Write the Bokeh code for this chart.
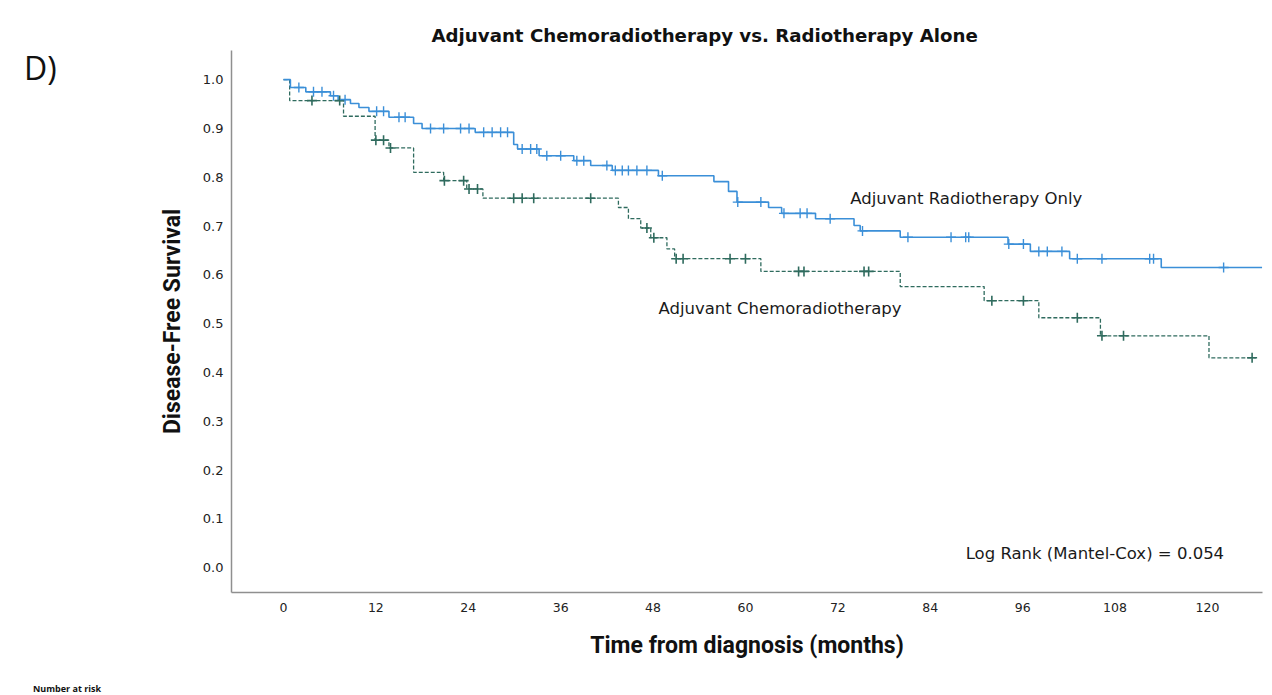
import numpy as np
from bokeh.plotting import figure
from bokeh.models import Range1d, FixedTicker, Label, NumeralTickFormatter, Div
from bokeh.layouts import row
from bokeh.embed import file_html
from bokeh.resources import INLINE

# ---- data ----
x_ticks = [0, 12, 24, 36, 48, 60, 72, 84, 96, 108, 120]
y_ticks = [0.0, 0.1, 0.2, 0.3, 0.4, 0.5, 0.6, 0.7, 0.8, 0.9, 1.0]

# Adjuvant Radiotherapy Only (solid blue)
rt_times = [0, 0.9, 2.9, 6.1, 7.1, 8.7, 9.8, 11.1, 13.7, 16.9, 18.0, 24.9, 29.9, 30.4,
            33.2, 37.7, 39.9, 42.7, 48.7, 55.9, 57.8, 58.9, 63.0, 64.7, 69.1, 74.1,
            74.9, 80.1, 94.1, 97.0, 102.1, 114.0]
rt_surv = [1.0, 0.984, 0.975, 0.967, 0.959, 0.951, 0.943, 0.935, 0.923, 0.910, 0.900,
           0.892, 0.867, 0.858, 0.844, 0.834, 0.824, 0.814, 0.803, 0.791, 0.771, 0.749,
           0.738, 0.726, 0.715, 0.701, 0.690, 0.677, 0.663, 0.648, 0.633, 0.615]
rt_end = 127.1
rt_censor = [2.0, 3.9, 5.0, 6.5, 8.0, 12.1, 13.0, 15.0, 15.8, 19.1, 20.8, 23.0, 24.1,
             26.0, 27.1, 28.2, 29.1, 31.0, 32.1, 32.9, 34.2, 36.0, 38.1, 39.0, 42.0,
             43.1, 44.0, 44.8, 45.9, 47.2, 49.2, 59.0, 62.0, 65.0, 67.1, 68.0, 71.0,
             75.2, 81.1, 86.7, 88.6, 89.0, 94.2, 96.1, 98.1, 99.2, 101.1, 103.1, 106.3,
             112.5, 113.0, 122.1]

# Adjuvant Chemoradiotherapy (dashed green)
crt_times = [0, 0.8, 7.8, 11.9, 13.7, 16.9, 20.8, 23.8, 25.9, 43.5, 44.8, 46.4, 47.7,
             49.8, 50.8, 62.0, 80.1, 91.0, 98.1, 106.1, 120.2]
crt_surv = [1.0, 0.957, 0.925, 0.876, 0.860, 0.810, 0.793, 0.776, 0.757, 0.738, 0.715,
            0.696, 0.676, 0.653, 0.633, 0.607, 0.576, 0.547, 0.512, 0.475, 0.430]
crt_end = 126.3
crt_censor = [3.7, 7.3, 12.0, 13.0, 13.9, 20.9, 23.4, 24.1, 25.2, 29.9, 31.0, 32.5,
              39.9, 47.2, 48.1, 51.0, 51.9, 58.0, 60.0, 66.9, 67.6, 75.4, 76.0, 92.0,
              96.1, 103.1, 106.3, 109.1, 125.8]

BLUE = "#3b8fd8"
GREEN = "#2f6b5e"


def surv_at(times, surv, ts):
    t = np.asarray(times)
    s = np.asarray(surv)
    idx = np.searchsorted(t, np.asarray(ts), side="right") - 1
    return s[idx]


p = figure(width=1124, height=695, output_backend="svg", toolbar_location=None,
           x_range=Range1d(-6.75, 127.15), y_range=Range1d(-0.051, 1.0597),
           min_border_left=91, min_border_right=2, min_border_top=50,
           min_border_bottom=103, margin=0)
p.outline_line_color = None
p.xgrid.grid_line_color = None
p.ygrid.grid_line_color = None
p.background_fill_color = "white"
p.border_fill_color = "white"

p.title.text = "Adjuvant Chemoradiotherapy vs. Radiotherapy Alone"
p.title.align = "left"
p.title.offset = 200
p.title.text_font = "DejaVu Sans"
p.title.text_font_size = "18.2px"
p.title.text_font_style = "bold"
p.title.text_color = "#111111"
p.title.standoff = 10

for ax in (p.xaxis, p.yaxis):
    ax.axis_line_color = "#8f8f8f"
    ax.axis_line_width = 1.5
    ax.major_tick_line_color = None
    ax.minor_tick_line_color = None
    ax.major_tick_out = 0
    ax.major_tick_in = 0
    ax.minor_tick_out = 0
    ax.major_label_text_font = "DejaVu Sans"
    ax.major_label_text_color = "#222222"
    ax.axis_label_text_font = "Roboto"
    ax.axis_label_text_font_style = "bold"
    ax.axis_label_text_font_size = "23px"
    ax.axis_label_text_color = "#111111"

p.xaxis.major_label_text_font_size = "12.5px"
p.yaxis.major_label_text_font_size = "13px"
p.xaxis.ticker = FixedTicker(ticks=x_ticks)
p.yaxis.ticker = FixedTicker(ticks=y_ticks)
p.yaxis.formatter = NumeralTickFormatter(format="0.0")
p.xaxis.major_label_standoff = 10
p.yaxis.major_label_standoff = 8
p.xaxis.axis_label = "Time from diagnosis (months)"
p.yaxis.axis_label = "Disease-Free Survival"
p.xaxis.axis_label_standoff = 17
p.yaxis.axis_label_standoff = 14

# curves
p.step(crt_times + [crt_end], crt_surv + [crt_surv[-1]], mode="after",
       line_color=GREEN, line_width=1.3, line_dash="4 2")
p.step(rt_times + [rt_end], rt_surv + [rt_surv[-1]], mode="after",
       line_color=BLUE, line_width=1.6)

p.scatter(crt_censor, surv_at(crt_times, crt_surv, crt_censor), marker="cross",
          size=10, line_color=GREEN, line_width=1.6)
p.scatter(rt_censor, surv_at(rt_times, rt_surv, rt_censor), marker="cross",
          size=10, line_color=BLUE, line_width=1.4)

# texts inside the plot
def add_label(x, y, text, size, style="normal", font="DejaVu Sans", align="left",
              baseline="middle", color="#1a1a1a"):
    p.add_layout(Label(x=x, y=y, text=text, text_font=font, text_font_size=size,
                       text_font_style=style, text_align=align,
                       text_baseline=baseline, text_color=color))

add_label(73.6, 0.756, "Adjuvant Radiotherapy Only", "16.5px")
add_label(48.7, 0.531, "Adjuvant Chemoradiotherapy", "16.5px")
add_label(88.6, 0.029, "Log Rank (Mantel-Cox) = 0.054", "16.5px")

# panel letter and "Number at risk" caption, left of the plot
side = Div(width=140, height=695, margin=0, text=(
    '<div style="position:relative;width:140px;height:695px;">'
    '<div style="position:absolute;left:24px;top:52px;font-family:\'Open Sans\';'
    'font-size:32px;line-height:1;color:#111;white-space:nowrap;">D)</div>'
    '<div style="position:absolute;left:33px;top:684px;font-family:\'Open Sans\';'
    'font-size:9px;font-weight:bold;line-height:1;color:#111;white-space:nowrap;">'
    'Number at risk</div></div>'))

layout = row(side, p, margin=0)
open("out.html", "w").write(file_html(layout, INLINE))
